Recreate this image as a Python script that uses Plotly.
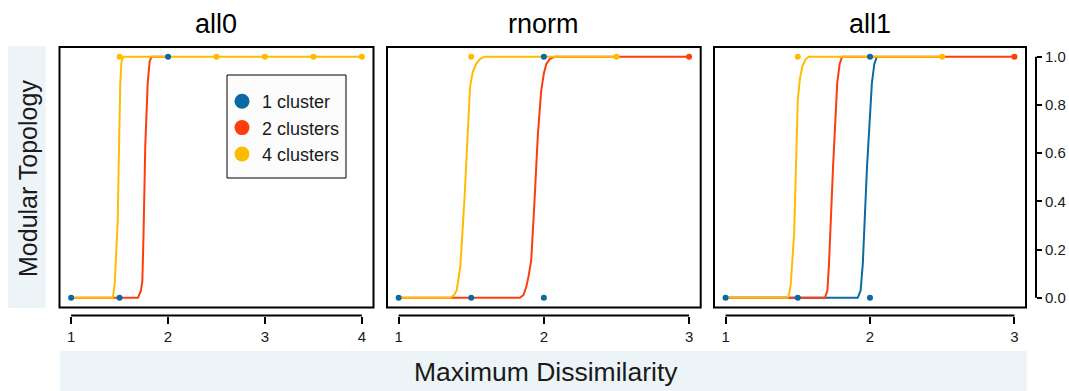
import plotly.graph_objects as go

# ---------------- data ----------------
panels = ["all0", "rnorm", "all1"]
x_ticks_all0 = [1, 2, 3, 4]
x_ticks_rnorm = [1, 2, 3]
x_ticks_all1 = [1, 2, 3]
y_ticks = [0.0, 0.2, 0.4, 0.6, 0.8, 1.0]
series_names = ["1 cluster", "2 clusters", "4 clusters"]

# observed points
all0_c1_x = [1, 1.5, 2]
all0_c1_y = [0, 0, 1]
all0_c2_x = []
all0_c2_y = []
all0_c4_x = [1.5, 2.5, 3, 3.5, 4]
all0_c4_y = [1, 1, 1, 1, 1]

rnorm_c1_x = [1, 1.5, 2, 2]
rnorm_c1_y = [0, 0, 0, 1]
rnorm_c2_x = [3]
rnorm_c2_y = [1]
rnorm_c4_x = [1.5, 2.5]
rnorm_c4_y = [1, 1]

all1_c1_x = [1, 1.5, 2, 2]
all1_c1_y = [0, 0, 0, 1]
all1_c2_x = [3]
all1_c2_y = [1]
all1_c4_x = [1.5, 2.5]
all1_c4_y = [1, 1]

# fitted curves
all0_c1_fit_x = []
all0_c1_fit_y = []
all0_c2_fit_x = [1, 1.69, 1.72, 1.735, 1.748, 1.765, 1.79, 1.81, 1.83, 2]
all0_c2_fit_y = [0, 0, 0.03, 0.07, 0.28, 0.63, 0.89, 0.98, 1, 1]
all0_c4_fit_x = [1, 1.43, 1.45, 1.48, 1.49, 1.507, 1.52, 1.54, 4]
all0_c4_fit_y = [0, 0, 0.06, 0.31, 0.54, 0.89, 0.98, 1, 1]

rnorm_c1_fit_x = []
rnorm_c1_fit_y = []
rnorm_c2_fit_x = [1, 1.835, 1.86, 1.879, 1.895, 1.913, 1.936, 1.959, 1.982, 2.0, 2.017, 2.04, 2.074, 3]
rnorm_c2_fit_y = [0, 0, 0.012, 0.046, 0.09, 0.156, 0.405, 0.68, 0.86, 0.93, 0.97, 0.99, 1, 1]
rnorm_c4_fit_x = [1, 1.355, 1.38, 1.40, 1.41, 1.425, 1.453, 1.476, 1.492, 1.51, 1.534, 1.56, 1.59, 2.5]
rnorm_c4_fit_y = [0, 0, 0.01, 0.032, 0.07, 0.13, 0.405, 0.68, 0.875, 0.935, 0.97, 0.99, 1, 1]

all1_c1_fit_x = [1, 1.915, 1.935, 1.95, 1.979, 2.013, 2.03, 2.048]
all1_c1_fit_y = [0, 0, 0.03, 0.14, 0.54, 0.89, 0.97, 1]
all1_c2_fit_x = [1, 1.688, 1.705, 1.716, 1.744, 1.773, 1.79, 1.807, 3]
all1_c2_fit_y = [0, 0, 0.03, 0.14, 0.54, 0.89, 0.97, 1, 1]
all1_c4_fit_x = [1, 1.43, 1.44, 1.452, 1.475, 1.50, 1.515, 1.532, 1.555, 1.578, 2.5]
all1_c4_fit_y = [0, 0, 0.015, 0.06, 0.27, 0.82, 0.91, 0.96, 0.99, 1, 1]

# ---------------- styling ----------------
W, H = 1069, 391
COLORS = ["#0B69A3", "#FF3D0A", "#FFBB00"]
STRIP = "#EDF4F8"
FONT = "Liberation Sans, Arial, sans-serif"
TXT = "#1a1a1a"


def fx(p):
    return p / W


def fy(p):
    return 1 - p / H


panel_px = [(59.5, 373.5), (387.0, 700.7), (714.0, 1026.0)]
y_dom = [fy(307.5), fy(47.0)]
x_axis_pos = fy(315.5)

ticks = [x_ticks_all0, x_ticks_rnorm, x_ticks_all1]
points = [
    [(all0_c1_x, all0_c1_y), (all0_c2_x, all0_c2_y), (all0_c4_x, all0_c4_y)],
    [(rnorm_c1_x, rnorm_c1_y), (rnorm_c2_x, rnorm_c2_y), (rnorm_c4_x, rnorm_c4_y)],
    [(all1_c1_x, all1_c1_y), (all1_c2_x, all1_c2_y), (all1_c4_x, all1_c4_y)],
]
curves = [
    [(all0_c1_fit_x, all0_c1_fit_y), (all0_c2_fit_x, all0_c2_fit_y), (all0_c4_fit_x, all0_c4_fit_y)],
    [(rnorm_c1_fit_x, rnorm_c1_fit_y), (rnorm_c2_fit_x, rnorm_c2_fit_y), (rnorm_c4_fit_x, rnorm_c4_fit_y)],
    [(all1_c1_fit_x, all1_c1_fit_y), (all1_c2_fit_x, all1_c2_fit_y), (all1_c4_fit_x, all1_c4_fit_y)],
]

fig = go.Figure()
shapes = []
annotations = []

# background strips for axis titles
shapes.append(dict(type="rect", xref="paper", yref="paper", x0=fx(8), x1=fx(45.7),
                   y0=fy(308), y1=fy(46), fillcolor=STRIP, line=dict(width=0), layer="below"))
shapes.append(dict(type="rect", xref="paper", yref="paper", x0=fx(60), x1=fx(1026.7),
                   y0=0, y1=fy(351), fillcolor=STRIP, line=dict(width=0), layer="below"))

layout_axes = {}
for i, name in enumerate(panels):
    k = "" if i == 0 else str(i + 1)
    xa, ya = "x" + k, "y" + k
    tv = ticks[i]
    span = tv[-1] - tv[0]
    for j in range(3):
        cx, cy = curves[i][j]
        if cx:
            fig.add_trace(go.Scatter(x=cx, y=cy, mode="lines", xaxis=xa, yaxis=ya,
                                     line=dict(color=COLORS[j], width=2, shape="linear"),
                                     showlegend=False, hoverinfo="skip"))
    for j in [1, 2, 0]:
        px_, py_ = points[i][j]
        if px_:
            fig.add_trace(go.Scatter(x=px_, y=py_, mode="markers", xaxis=xa, yaxis=ya,
                                     marker=dict(color=COLORS[j], size=6),
                                     showlegend=False, hoverinfo="skip"))
    layout_axes["xaxis" + k] = dict(
        domain=[fx(panel_px[i][0]), fx(panel_px[i][1])],
        range=[tv[0] - 0.04 * span, tv[-1] + 0.04 * span],
        anchor="free", position=x_axis_pos,
        tickvals=tv, ticktext=[str(t) for t in tv],
        ticks="outside", ticklen=7, tickwidth=2, tickcolor="black",
        showline=False, showgrid=False, zeroline=False,
        tickfont=dict(size=15, color=TXT, family=FONT),
    )
    ya_def = dict(domain=y_dom, range=[-0.04, 1.04], showgrid=False, zeroline=False,
                  showline=False)
    if i == 2:
        ya_def.update(anchor="free", position=fx(1036), side="right",
                      tickvals=y_ticks, ticktext=["%.1f" % t for t in y_ticks],
                      ticks="outside", ticklen=5,
                      tickwidth=2, tickcolor="black",
                      tickfont=dict(size=15, color=TXT, family=FONT))
    else:
        ya_def.update(anchor=xa, showticklabels=False, ticks="")
    layout_axes["yaxis" + k] = ya_def
    shapes.append(dict(type="rect", xref=xa + " domain", yref=ya + " domain",
                       x0=0, x1=1, y0=0, y1=1, line=dict(color="black", width=2)))
    shapes.append(dict(type="line", xref=xa, yref="paper", x0=tv[0], x1=tv[-1],
                       y0=x_axis_pos, y1=x_axis_pos, line=dict(color="black", width=2)))
    annotations.append(dict(text=name, xref="paper", yref="paper",
                            x=(fx(panel_px[i][0]) + fx(panel_px[i][1])) / 2, y=fy(24),
                            xanchor="center", yanchor="middle", showarrow=False,
                            font=dict(size=27, color="black", family=FONT)))

shapes.append(dict(type="line", xref="paper", yref="y3", x0=fx(1036), x1=fx(1036),
                   y0=y_ticks[0], y1=y_ticks[-1], line=dict(color="black", width=2)))

# legend frame
shapes.append(dict(type="rect", xref="paper", yref="paper", x0=fx(227), x1=fx(346),
                   y0=fy(178), y1=fy(75), fillcolor="#FCFCFC",
                   line=dict(color="black", width=1), layer="above"))

for j, nm in enumerate(series_names):
    fig.add_trace(go.Scatter(x=[None], y=[None], mode="markers", name=nm, xaxis="x", yaxis="y",
                             marker=dict(color=COLORS[j], size=15)))

annotations.append(dict(text="Modular Topology", xref="paper", yref="paper", x=fx(28), y=fy(179),
                        textangle=-90, showarrow=False, xanchor="center", yanchor="middle",
                        font=dict(size=25, color=TXT, family=FONT)))
annotations.append(dict(text="Maximum Dissimilarity", xref="paper", yref="paper", x=fx(546), y=fy(372),
                        showarrow=False, xanchor="center", yanchor="middle",
                        font=dict(size=26.5, color=TXT, family=FONT)))

fig.update_layout(
    width=W, height=H,
    margin=dict(l=0, r=0, t=0, b=0),
    paper_bgcolor="white", plot_bgcolor="white",
    font=dict(family=FONT, color=TXT),
    shapes=shapes, annotations=annotations,
    legend=dict(x=fx(222), y=fy(83), xanchor="left", yanchor="top",
                bgcolor="rgba(0,0,0,0)", borderwidth=0,
                font=dict(size=18, color=TXT, family=FONT), itemwidth=30,
                tracegroupgap=0),
    **layout_axes,
)

fig.write_html("out.html", config={"displayModeBar": False},
               post_script="document.body.style.margin='0';")
